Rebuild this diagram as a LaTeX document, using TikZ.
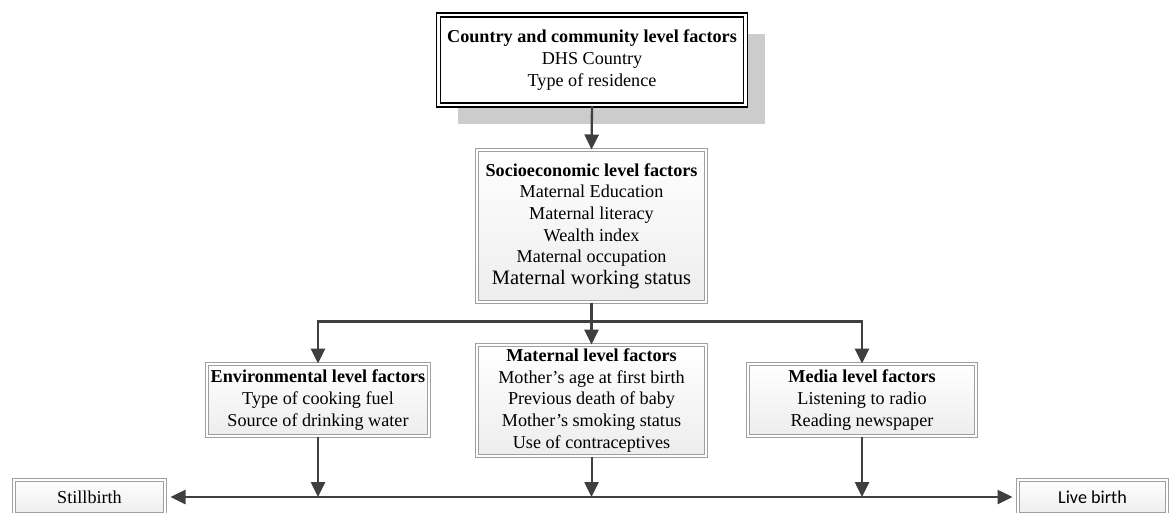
\documentclass[tikz,border=0pt]{standalone}
\usepackage{fontspec}
\setmainfont{Liberation Serif}
\newfontfamily\livefont{Carlito}
\usetikzlibrary{arrows.meta,shadows,positioning}
\definecolor{linegray}{HTML}{3F3F3F}

\begin{document}
\begin{tikzpicture}[->,>={Triangle[length=9pt,width=8.5pt]},x=0.6pt,y=-0.6pt]
\tikzstyle{every node}=[font=\fontsize{10.9}{13}\selectfont, align=center, inner sep=0pt]
\tikzstyle{topbox}=[draw=black, double, double distance=1.3pt, line width=0.9pt, fill=white,
  drop shadow={shadow xshift=11.5pt, shadow yshift=-11.5pt, fill=black!20, opacity=1}]
\tikzstyle{factor}=[draw=gray!75, double=white, double distance=1pt, line width=0.6pt,
  top color=white, bottom color=gray!14,
  drop shadow={shadow xshift=1.2pt, shadow yshift=-1.2pt, fill=gray!50, opacity=0.5}]
\tikzstyle{link}=[draw=linegray, line width=1.4pt]
\useasboundingbox (0,0) rectangle (1176,512);

\node[topbox, minimum width=184.2pt, minimum height=54pt] (country) at (592,60)
  {\textbf{Country and community level factors}\\DHS Country\\Type of residence};
\node[factor, minimum width=137.4pt, minimum height=91.2pt] (socio) at (591.5,226)
  {\textbf{Socioeconomic level factors}\\Maternal Education\\Maternal literacy\\Wealth index\\Maternal occupation\\{\fontsize{12.3}{14}\selectfont Maternal working status}};
\node[factor, minimum width=133.2pt, minimum height=43.2pt] (env) at (318,400)
  {\textbf{Environmental level factors}\\Type of cooking fuel\\Source of drinking water};
\node[factor, minimum width=137.4pt, minimum height=66.6pt] (maternal) at (591.5,400.5)
  {\textbf{Maternal level factors}\\Mother’s age at first birth\\Previous death of baby\\Mother’s smoking status\\Use of contraceptives};
\node[factor, minimum width=136.8pt, minimum height=43.2pt] (media) at (862,400)
  {\textbf{Media level factors}\\Listening to radio\\Reading newspaper};
\node[factor, minimum width=90.6pt, minimum height=20.4pt] (still) at (89.5,497) {Stillbirth};
\node[factor, minimum width=89.4pt, minimum height=20.4pt] (live) at (1092.5,497) {\livefont Live birth};

% top part
\draw[link] (country.south) -- (socio.north);
\draw[link] (socio.south) -- (maternal.north);
\draw[link] (socio.south) -- ++(0,19) -| (env.north);
\draw[link] (socio.south) -- ++(0,19) -| (media.north);

% outcome line
\draw[link, line width=1.2pt, <->, shorten >=3pt, shorten <=3pt] (still) -- (live);
\draw[link, line width=1.2pt] (env.south) -- (env.south |- still.east);
\draw[link, line width=1.2pt] (maternal.south) -- (maternal.south |- still.east);
\draw[link, line width=1.2pt] (media.south) -- (media.south |- still.east);
\end{tikzpicture}
\end{document}
